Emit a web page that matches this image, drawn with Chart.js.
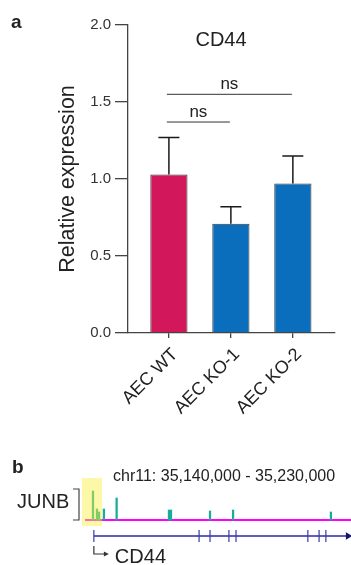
<!DOCTYPE html>
<html lang="en">
<head>
  <meta charset="UTF-8" />
  <title>CD44 expression</title>
  <script src="https://cdn.jsdelivr.net/npm/chart.js"></script>
  <style>
    body { margin: 0; background: #fff; }
    #wrap { position: relative; width: 351px; height: 565px; overflow: hidden; }
    #barBox { position: absolute; left: 0; top: 0; width: 351px; height: 445px; }
    #trackBox { position: absolute; left: 0; top: 440px; width: 351px; height: 125px; }
  </style>
</head>
<body>
  <div id="wrap">
    <div id="barBox"><canvas id="barChart"></canvas></div>
    <div id="trackBox"><canvas id="trackChart"></canvas></div>
  </div>

  <script>
    // panel a: qPCR bars
    const groups = ['AEC WT', 'AEC KO-1', 'AEC KO-2'];
    const means = [1.03, 0.71, 0.97];
    const errUp = [0.24, 0.11, 0.18];
    const barColors = ['#D2185A', '#0A6EBD', '#0A6EBD'];
    const yTicks = [0, 0.5, 1.0, 1.5, 2.0];

    // significance brackets
    const sigFrom = [0, 0];
    const sigTo = [1, 2];
    const sigY = [1.37, 1.55];
    const sigText = ['ns', 'ns'];

    // panel b: genome track (chr11)
    const regionStart = 35140000;
    const regionEnd = 35230000;
    const peakPos = [35142700, 35144050, 35144750, 35146400, 35150700, 35168400, 35169100, 35182300, 35190100, 35223200];
    const peakHeight = [29, 11, 8, 11, 22, 10, 10, 9, 10, 8];
    const highlightStart = 35139000;
    const highlightEnd = 35145750;
    const geneStart = 35143000;
    const geneEnd = 35229000;
    const exonPos = [35178600, 35182300, 35188700, 35191100, 35215400, 35219200, 35221500];

    const FONT = "'Liberation Sans', Arial, sans-serif";
    const INK = '#222';

    const barAnnot = {
      id: 'barAnnot',
      afterDatasetsDraw(chart) {
        const { ctx, scales: { x, y } } = chart;
        ctx.save();
        // error bars (upper only)
        ctx.strokeStyle = '#1a1a1a';
        ctx.lineWidth = 1.5;
        means.forEach((m, i) => {
          const px = x.getPixelForValue(i);
          const top = y.getPixelForValue(m + errUp[i]);
          ctx.beginPath();
          ctx.moveTo(px, y.getPixelForValue(m));
          ctx.lineTo(px, top);
          ctx.moveTo(px - 10.5, top);
          ctx.lineTo(px + 10.5, top);
          ctx.stroke();
        });
        // ns lines
        ctx.strokeStyle = '#333';
        ctx.lineWidth = 1;
        ctx.fillStyle = INK;
        ctx.font = '17px ' + FONT;
        ctx.textAlign = 'center';
        ctx.textBaseline = 'alphabetic';
        sigY.forEach((v, i) => {
          const x0 = x.getPixelForValue(sigFrom[i]) - 2;
          const x1 = x.getPixelForValue(sigTo[i]) - 1;
          const py = y.getPixelForValue(v);
          ctx.beginPath();
          ctx.moveTo(x0, py);
          ctx.lineTo(x1, py);
          ctx.stroke();
          ctx.fillText(sigText[i], (x0 + x1) / 2, py - 5);
        });
        // title + panel letter
        ctx.font = '20px ' + FONT;
        ctx.textBaseline = 'middle';
        ctx.fillText('CD44', 221, 40);
        ctx.font = 'bold 19px ' + FONT;
        ctx.textAlign = 'left';
        ctx.textBaseline = 'alphabetic';
        ctx.fillText('a', 11, 28);
        ctx.restore();
      }
    };

    new Chart(document.getElementById('barChart'), {
      type: 'bar',
      data: {
        datasets: [{
          data: means.map((m, i) => ({ x: i, y: m })),
          backgroundColor: barColors,
          borderColor: '#3a3a3a',
          borderWidth: 1,
          barPercentage: 0.6,
          categoryPercentage: 1.0
        }]
      },
      options: {
        responsive: true,
        maintainAspectRatio: false,
        animation: false,
        layout: { padding: { top: 25, right: 16, left: 0, bottom: 0 } },
        plugins: { legend: { display: false }, tooltip: { enabled: false } },
        scales: {
          x: {
            type: 'linear',
            min: -0.66,
            max: 2.68,
            offset: false,
            afterBuildTicks: s => { s.ticks = groups.map((g, i) => ({ value: i })); },
            afterFit: s => { s.height = 112; },
            ticks: {
              callback: v => groups[v],
              maxRotation: 45,
              minRotation: 45,
              color: INK,
              font: { family: FONT, size: 18 },
              padding: 6,
              labelOffset: 6
            },
            grid: { drawOnChartArea: false, offset: false, tickLength: 5, color: '#444', lineWidth: 1.3 },
            border: { color: '#444', width: 1.3 }
          },
          y: {
            min: 0,
            max: 2,
            afterBuildTicks: s => { s.ticks = yTicks.map(v => ({ value: v })); },
            afterFit: s => { s.width = 128; },
            ticks: {
              callback: v => v.toFixed(1),
              color: '#333',
              font: { family: FONT, size: 15 },
              padding: 4
            },
            grid: { drawOnChartArea: false, tickLength: 13, color: '#444', lineWidth: 1.3 },
            border: { color: '#444', width: 1.3 },
            title: {
              display: true,
              text: 'Relative expression',
              color: INK,
              font: { family: FONT, size: 21.5 },
              padding: { top: 55, bottom: 0 }
            }
          }
        }
      },
      plugins: [barAnnot]
    });

    const trackAnnot = {
      id: 'trackAnnot',
      afterDatasetsDraw(chart) {
        const { ctx, scales: { x, y } } = chart;
        ctx.save();
        // highlight box over the JUNB peak
        const hx0 = x.getPixelForValue(highlightStart);
        const hx1 = x.getPixelForValue(highlightEnd);
        const hy0 = y.getPixelForValue(42);
        const hy1 = y.getPixelForValue(-6);
        ctx.fillStyle = 'rgba(250, 240, 60, 0.45)';
        ctx.fillRect(hx0, hy0, hx1 - hx0, hy1 - hy0);

        ctx.fillStyle = INK;
        ctx.font = 'bold 19px ' + FONT;
        ctx.textAlign = 'left';
        ctx.fillText('b', 12, 33);

        ctx.font = '16px ' + FONT;
        ctx.textBaseline = 'middle';
        ctx.fillText('chr11: 35,140,000 - 35,230,000', 113, 37);

        ctx.font = '20px ' + FONT;
        ctx.fillText('JUNB', 17, 62);
        // bracket
        ctx.strokeStyle = '#444';
        ctx.lineWidth = 1.2;
        ctx.beginPath();
        ctx.moveTo(73, 49);
        ctx.lineTo(79, 49);
        ctx.lineTo(79, 80);
        ctx.lineTo(73, 80);
        ctx.stroke();

        // TSS arrow
        const tss = x.getPixelForValue(geneStart);
        const gy = y.getPixelForValue(-16);
        ctx.strokeStyle = '#333';
        ctx.lineWidth = 1.2;
        ctx.beginPath();
        ctx.moveTo(tss, gy + 10);
        ctx.lineTo(tss, gy + 18);
        ctx.lineTo(tss + 13, gy + 18);
        ctx.stroke();
        ctx.fillStyle = '#333';
        ctx.beginPath();
        ctx.moveTo(tss + 15, gy + 18);
        ctx.lineTo(tss + 10, gy + 15.5);
        ctx.lineTo(tss + 10, gy + 20.5);
        ctx.closePath();
        ctx.fill();

        ctx.fillStyle = INK;
        ctx.font = '20px ' + FONT;
        ctx.fillText('CD44', tss + 21, gy + 21);
        ctx.restore();
      }
    };

    const peakColors = peakPos.map(p => (p <= highlightEnd ? '#1fae8a' : '#19ab9c'));
    const exonPoints = [geneStart].concat(exonPos).map(p => ({ x: p, y: -16 }));

    new Chart(document.getElementById('trackChart'), {
      type: 'bar',
      data: {
        datasets: [
          {
            type: 'line',
            data: [{ x: regionStart, y: 0 }, { x: regionEnd, y: 0 }],
            borderColor: '#FF00FF',
            borderWidth: 2.2,
            pointRadius: 0,
            order: 3
          },
          {
            type: 'bar',
            data: peakPos.map((p, i) => ({ x: p, y: peakHeight[i] })),
            backgroundColor: peakColors,
            barThickness: 1.6,
            order: 2
          },
          {
            type: 'line',
            data: [{ x: geneStart, y: -16 }, { x: geneEnd, y: -16 }],
            borderColor: '#2a2a9a',
            borderWidth: 1.3,
            pointRadius: [0, 3],
            pointStyle: 'triangle',
            rotation: 90,
            pointBackgroundColor: '#14146e',
            pointBorderColor: '#14146e',
            clip: false,
            order: 1
          },
          {
            type: 'scatter',
            data: exonPoints,
            pointStyle: 'line',
            rotation: 90,
            pointRadius: 6,
            borderColor: '#3a3aa8',
            borderWidth: 1.2,
            clip: false,
            order: 0
          }
        ]
      },
      options: {
        responsive: true,
        maintainAspectRatio: false,
        animation: false,
        layout: { autoPadding: false, padding: { top: 40, right: 0, left: 85, bottom: 15 } },
        plugins: { legend: { display: false }, tooltip: { enabled: false } },
        scales: {
          x: { type: 'linear', min: regionStart, max: regionEnd, offset: false, display: false },
          y: { min: -30, max: 40, display: false }
        }
      },
      plugins: [trackAnnot]
    });
  </script>
</body>
</html>
